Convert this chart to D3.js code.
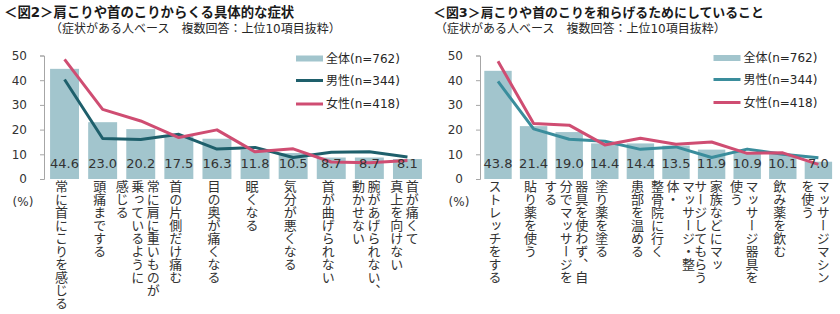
<!DOCTYPE html>
<html><head><meta charset="utf-8">
<script src="https://cdn.jsdelivr.net/npm/d3@7"></script>
<style>
html,body{margin:0;padding:0;background:#fff;}
svg{display:block;}
</style></head>
<body>
<script>
// ---------- data ----------
const title2 = "＜図2＞肩こりや首のこりからくる具体的な症状";
const title3 = "＜図3＞肩こりや首のこりを和らげるためにしていること";
const subtitle = "（症状がある人ベース　複数回答：上位10項目抜粋）";
const seriesNames = ["全体(n=762)", "男性(n=344)", "女性(n=418)"];
const yTicks = [0, 10, 20, 30, 40, 50];
const unitLabel = "(%)";

const cats2 = [
  "常に首にこりを感じる",
  "頭痛までする",
  "常に肩に重いものが\n乗っているように\n感じる",
  "首の片側だけ痛む",
  "目の奥が痛くなる",
  "眠くなる",
  "気分が悪くなる",
  "首が曲げられない",
  "腕があげられない、\n動かせない",
  "首が痛くて\n真上を向けない"
];
const all2 = [44.6, 23.0, 20.2, 17.5, 16.3, 11.8, 10.5, 8.7, 8.7, 8.1];
const male2 = [40.3, 16.4, 16.0, 18.1, 12.1, 12.8, 8.7, 10.8, 11.0, 8.9];
const female2 = [48.4, 28.2, 23.5, 16.8, 19.9, 11.0, 12.2, 6.9, 6.6, 7.5];

const cats3 = [
  "ストレッチをする",
  "貼り薬を使う",
  "器具を使わず、自\n分でマッサージを\nする",
  "塗り薬を塗る",
  "患部を温める",
  "マッサージ・整\n体・\n整骨院に行く",
  "家族などにマッ\nサージしてもらう",
  "マッサージ器具を\n使う",
  "飲み薬を飲む",
  "マッサージマシン\nを使う"
];
const all3 = [43.8, 21.4, 19.0, 14.4, 14.4, 13.5, 11.9, 10.9, 10.1, 7.0];
const male3 = [39.5, 20.3, 16.1, 15.3, 12.0, 13.0, 8.7, 12.1, 10.0, 8.6];
const female3 = [47.7, 22.5, 21.8, 13.8, 16.5, 14.1, 15.0, 10.4, 10.6, 5.9];

// ---------- drawing ----------
const W = 840, H = 314;
const svg = d3.select("body").append("svg").attr("width", W).attr("height", H);

const JP = "'Noto Sans CJK JP', sans-serif";
const NUM = "'DejaVu Sans', 'Noto Sans CJK JP', sans-serif";
const barColor = "#a2c5cd";
const femaleColor = "#cf4d72";

function panel(o) {
  const g = svg.append("g");
  // title
  g.append("text").attr("x", o.titleX).attr("y", 16.5)
    .attr("font-family", NUM).attr("font-weight", "bold").attr("font-size", o.titleSize)
    .attr("fill", "#1a1a1a").text(o.title);
  g.append("text").attr("x", o.subX).attr("y", 32.5)
    .attr("font-family", NUM).attr("font-size", 12)
    .attr("fill", "#262626").text(subtitle);

  const x = d3.scaleBand().domain(d3.range(o.cats.length))
    .range(o.xRange).paddingInner(o.pad).paddingOuter(o.pad / 2);
  const y = d3.scaleLinear().domain([0, 50]).range([179, 55.5]);

  // axis
  const ax = g.append("g").attr("transform", `translate(${o.axisX},0)`)
    .call(d3.axisLeft(y).tickValues(yTicks).tickSize(4).tickSizeOuter(4).tickPadding(13));
  ax.selectAll("path,line").attr("stroke", "#a6a6a6");
  ax.selectAll("text").attr("font-family", NUM).attr("font-size", 12).attr("fill", "#333");

  g.append("text").attr("x", o.axisX - 21).attr("y", 202).attr("text-anchor", "middle")
    .attr("dominant-baseline", "middle")
    .attr("font-family", NUM).attr("font-size", 12).attr("fill", "#333").text(unitLabel);

  // bars
  g.selectAll("rect.bar").data(o.all).join("rect").attr("class", "bar")
    .attr("x", (d, i) => x(i)).attr("width", x.bandwidth())
    .attr("y", d => y(d)).attr("height", d => y(0) - y(d))
    .attr("fill", barColor);

  // lines
  const line = d3.line().x((d, i) => x(i) + x.bandwidth() / 2).y(d => y(d));
  g.append("path").datum(o.male).attr("d", line).attr("fill", "none")
    .attr("stroke", o.maleColor).attr("stroke-width", 3).attr("stroke-linejoin", "round");
  g.append("path").datum(o.female).attr("d", line).attr("fill", "none")
    .attr("stroke", femaleColor).attr("stroke-width", 3).attr("stroke-linejoin", "round");

  // value labels
  g.selectAll("text.val").data(o.all).join("text").attr("class", "val")
    .attr("x", (d, i) => x(i) + x.bandwidth() / 2).attr("y", 168)
    .attr("text-anchor", "middle").attr("font-family", NUM).attr("font-size", 13)
    .attr("fill", "#333").text(d => d.toFixed(1));

  // category labels (vertical, columns right-to-left)
  o.cats.forEach((c, i) => {
    const cols = c.split("\n");
    const n = cols.length;
    const cx = x(i) + x.bandwidth() / 2 - 3;
    cols.forEach((t, j) => {
      g.append("text")
        .attr("x", cx + ((n - 1) / 2 - j) * 15.5)
        .attr("y", 180)
        .style("writing-mode", "vertical-rl")
        .attr("font-family", JP).attr("font-size", 13).attr("fill", "#333")
        .text(t);
    });
  });

  // legend
  const lx = o.legendX;
  const rows = o.legendRows;
  g.append("rect").attr("x", lx).attr("y", rows[0] - 3).attr("width", 27).attr("height", 6).attr("fill", barColor);
  g.append("line").attr("x1", lx).attr("x2", lx + 27).attr("y1", rows[1]).attr("y2", rows[1])
    .attr("stroke", o.maleColor).attr("stroke-width", 3);
  g.append("line").attr("x1", lx).attr("x2", lx + 27).attr("y1", rows[2]).attr("y2", rows[2])
    .attr("stroke", femaleColor).attr("stroke-width", 3);
  seriesNames.forEach((s, k) => {
    g.append("text").attr("x", lx + 30).attr("y", rows[k]).attr("dominant-baseline", "central")
      .attr("font-family", NUM).attr("font-size", 12).attr("fill", "#262626").text(s);
  });
}

panel({
  title: title2, titleX: 4, titleSize: 13.4, subX: 50,
  cats: cats2, all: all2, male: male2, female: female2,
  xRange: [45.5, 426.5], pad: 0.24, axisX: 44,
  maleColor: "#1e5f6b", legendX: 296, legendRows: [58.5, 80.5, 104]
});
panel({
  title: title3, titleX: 433, titleSize: 12.9, subX: 435,
  cats: cats3, all: all3, male: male3, female: female3,
  xRange: [480.2, 836.2], pad: 0.23, axisX: 480,
  maleColor: "#3a8d9c", legendX: 713.5, legendRows: [58, 79.5, 102.5]
});
</script>
</body></html>
